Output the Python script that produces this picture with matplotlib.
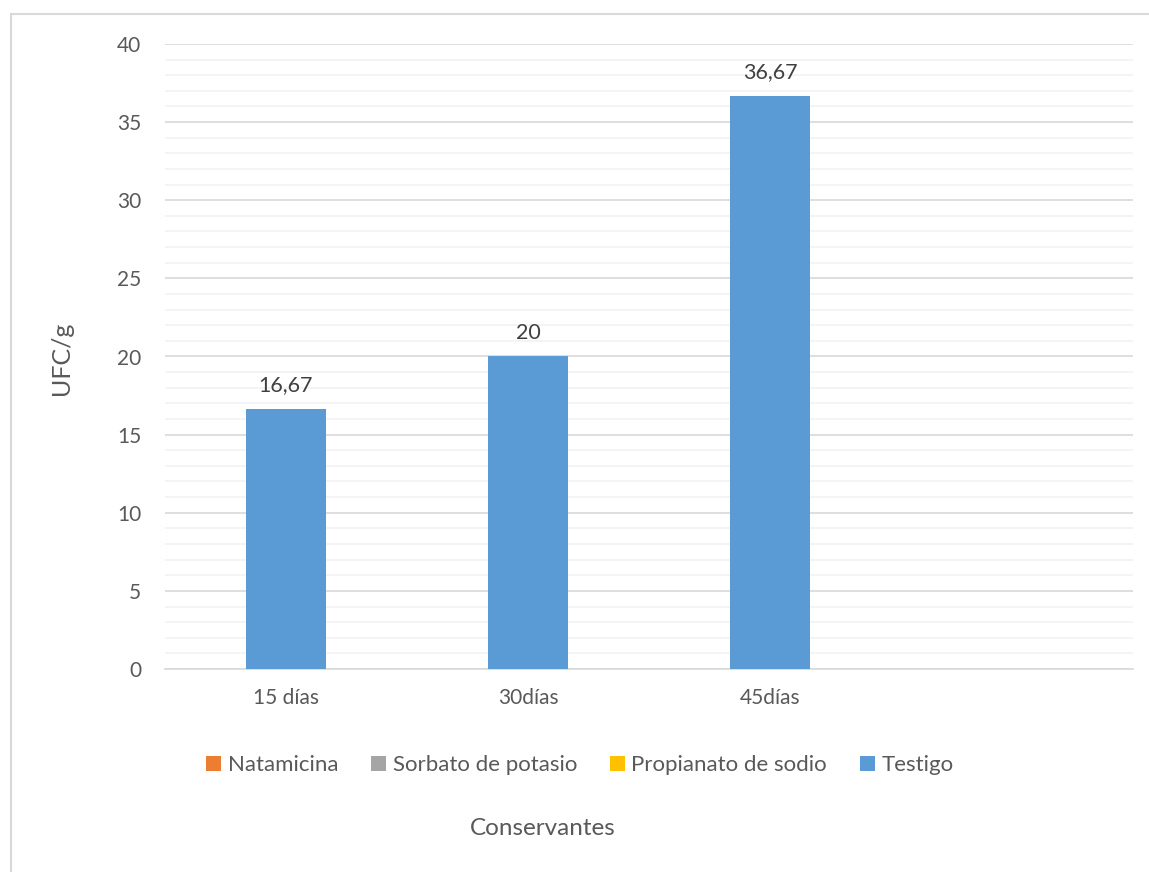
import matplotlib
matplotlib.use("Agg")
import matplotlib.pyplot as plt
from matplotlib.patches import Rectangle, Patch
from matplotlib.ticker import MultipleLocator

# === datos ===
dias = ["15 días", "30días", "45días", ""]
testigo = [16.67, 20, 36.67, None]
series = ["Natamicina", "Sorbato de potasio", "Propianato de sodio", "Testigo"]
colores = ["#ED7D31", "#A5A5A5", "#FFC000", "#5B9BD5"]

plt.rcParams["font.family"] = ["Lato", "DejaVu Sans"]
gris = "#595959"

fig = plt.figure(figsize=(11.49, 8.72), dpi=100)
ax = fig.add_axes([165 / 1149, 1 - 669 / 872, 968 / 1149, 625 / 872])

# marco del gráfico
fig.patches.append(Rectangle((10.5 / 1149, -0.1), 1.2, 1 - 14.5 / 872 + 0.1,
                             transform=fig.transFigure, fill=False,
                             edgecolor="#d9d9d9", linewidth=1.5))

# === barras ===
xs = [i for i, v in enumerate(testigo) if v is not None]
vals = [v for v in testigo if v is not None]
bars = ax.bar(xs, vals, width=0.33, color=colores[3], zorder=3)

for x, v in zip(xs, vals):
    txt = f"{v:g}".replace(".", ",")
    ax.annotate(txt, (x, v), xytext=(0, 10), textcoords="offset points",
                ha="center", va="bottom", fontsize=15.5, color="#404040")

# === ejes ===
ax.set_xlim(-0.5, len(dias) - 0.5)
ax.set_ylim(0, 40)
ax.set_xticks(range(len(dias)))
ax.set_xticklabels(dias)
ax.yaxis.set_major_locator(MultipleLocator(5))
ax.yaxis.set_minor_locator(MultipleLocator(1))
ax.grid(which="major", axis="y", color="#d9d9d9", linewidth=1.2, zorder=0)
ax.grid(which="minor", axis="y", color="#f2f2f2", linewidth=1.2, zorder=0)
ax.set_axisbelow(True)
for s in ["top", "right", "left"]:
    ax.spines[s].set_visible(False)
ax.spines["bottom"].set_color("#d9d9d9")
ax.spines["bottom"].set_linewidth(1.2)
ax.tick_params(which="both", length=0)
ax.tick_params(axis="y", pad=17, labelsize=15, labelcolor=gris)
ax.tick_params(axis="x", pad=14, labelsize=15, labelcolor=gris)

ax.set_ylabel("UFC/g", fontsize=18, color=gris)
ax.yaxis.set_label_coords((73 - 165) / 968, (669 - 358) / 625)

# === leyenda ===
handles = [Patch(facecolor=c, edgecolor="none") for c in colores]
fig.legend(handles, series, loc="center", bbox_to_anchor=(580 / 1149, 1 - 765 / 872),
           ncol=4, frameon=False, fontsize=16, labelcolor=gris,
           handlelength=0.65, handleheight=0.65, handletextpad=0.3,
           columnspacing=1.5)

fig.text(543 / 1149, 1 - 828 / 872, "Conservantes", ha="center", va="center",
         fontsize=17.5, color=gris)

fig.savefig("out.png", dpi=100)
